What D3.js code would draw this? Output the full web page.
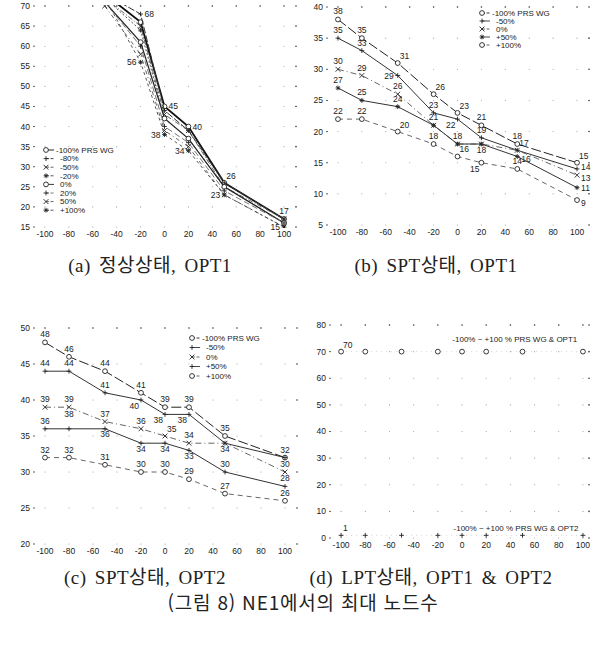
<!DOCTYPE html>
<html lang="ko">
<head>
<meta charset="utf-8">
<title>NE1에서의 최대 노드수</title>
<script src="https://cdn.jsdelivr.net/npm/d3@7"></script>
<style>
  body { margin: 0; background: #fff; }
  svg text { font-family: "Liberation Sans Narrow", "Liberation Sans", sans-serif; fill: #1a1a1a; }
  .tick { font-size: 8.5px; }
  .lbl { font-size: 8.5px; }
  .leg { font-size: 8px; }
  .cap { font-family: "Liberation Serif", "DejaVu Serif", "Noto Sans CJK KR", serif; font-size: 19px; letter-spacing: 0.5px; word-spacing: 3px; fill: #222; }
  .main { font-family: "Noto Sans CJK KR", sans-serif; font-size: 19px; letter-spacing: 0.8px; fill: #222; }
</style>
</head>
<body>
<svg id="fig" width="595" height="654"></svg>
<script>
// ---- data ----
var xTicks = [-100, -80, -60, -40, -20, 0, 20, 40, 60, 80, 100];

// (a) 정상상태, OPT1
var aX = [-50, -20, 0, 20, 50, 100];
var aNames = ["-100% PRS WG", "-80%", "-50%", "-20%", "0%", "20%", "50%", "+100%"];
var aVals = [
  [73, 66, 45, 40, 26, 17],
  [73, 68, 44, 39, 26, 17],
  [72, 65, 43, 39, 25, 17],
  [72, 64, 42, 37, 25, 16],
  [71, 61, 42, 37, 25, 16],
  [71, 60, 40, 36, 24, 16],
  [70, 58, 39, 35, 23, 15],
  [72, 56, 38, 34, 23, 15]
];
var aYTicks = [15, 20, 25, 30, 35, 40, 45, 50, 55, 60, 65, 70];
var aLabels = [[-20, 68, "r"], [-20, 56, "l"], [0, 45, "r"], [0, 38, "l"], [20, 40, "r"],
               [20, 34, "l"], [50, 26, "ar"], [50, 23, "l"], [100, 17, "a"], [100, 15, "l"]];

// (b) SPT상태, OPT1
var bX = [-100, -80, -50, -20, 0, 20, 50, 100];
var bNames = ["-100% PRS WG", "-50%", "0%", "+50%", "+100%"];
var bVals = [
  [38, 35, 31, 26, 23, 21, 18, 15],
  [35, 33, 29, 23, 22, 19, 17, 14],
  [30, 29, 26, 21, 18, 18, 17, 13],
  [27, 25, 24, 21, 18, 18, 16, 11],
  [22, 22, 20, 18, 16, 15, 14, 9]
];
var bYTicks = [5, 10, 15, 20, 25, 30, 35, 40];
var bLabels = [[-100, 38, "a"], [-100, 35, "a"], [-100, 30, "a"], [-100, 27, "a"], [-100, 22, "a"],
               [-80, 35, "a"], [-80, 33, "a"], [-80, 29, "a"], [-80, 25, "a"], [-80, 22, "a"],
               [-50, 31, "ar"], [-50, 29, "l"], [-50, 26, "a"], [-50, 24, "a"], [-50, 20, "ar"],
               [-20, 26, "ar"], [-20, 23, "a"], [-20, 21, "a"], [-20, 18, "a"],
               [0, 23, "ar"], [0, 22, "bl"], [0, 18, "a"], [0, 16, "ar"],
               [20, 21, "a"], [20, 19, "a"], [20, 18, "b"], [20, 15, "bl"],
               [50, 18, "a"], [50, 17, "ar"], [50, 16, "rb"], [50, 14, "a"],
               [100, 15, "ar"], [100, 14, "rm"], [100, 13, "rb"], [100, 11, "r"], [100, 9, "rb"]];

// (c) SPT상태, OPT2
var cX = [-100, -80, -50, -20, 0, 20, 50, 100];
var cNames = ["-100% PRS WG", "-50%", "0%", "+50%", "+100%"];
var cVals = [
  [48, 46, 44, 41, 39, 39, 35, 32],
  [44, 44, 41, 40, 38, 38, 34, 32],
  [39, 39, 37, 36, 35, 34, 34, 30],
  [36, 36, 36, 34, 34, 33, 30, 28],
  [32, 32, 31, 30, 30, 29, 27, 26]
];
var cYTicks = [20, 25, 30, 35, 40, 45, 50];
var cLabels = [[-100, 48, "a"], [-100, 44, "a"], [-100, 39, "a"], [-100, 36, "a"], [-100, 32, "a"],
               [-80, 46, "a"], [-80, 44, "a"], [-80, 39, "a"], [-80, 38, "c"], [-80, 32, "a"],
               [-50, 44, "a"], [-50, 41, "a"], [-50, 37, "a"], [-50, 36, "b"], [-50, 31, "a"],
               [-20, 41, "a"], [-20, 40, "bl"], [-20, 36, "a"], [-20, 34, "b"], [-20, 30, "a"],
               [0, 39, "a"], [0, 38, "bl"], [0, 35, "ar"], [0, 34, "b"], [0, 30, "a"],
               [20, 39, "a"], [20, 38, "bl"], [20, 34, "a"], [20, 33, "b"], [20, 29, "a"],
               [50, 35, "a"], [50, 34, "b"], [50, 30, "a"], [50, 27, "a"],
               [100, 32, "a"], [100, 30, "a"], [100, 28, "a"], [100, 26, "a"]];

// (d) LPT상태, OPT1 & OPT2
var dX = [-100, -80, -50, -20, 0, 20, 50, 100];
var dNames = ["-100% ~ +100 % PRS WG & OPT1", "-100% ~ +100 % PRS WG & OPT2"];
var dVals = [
  [70, 70, 70, 70, 70, 70, 70, 70],
  [1, 1, 1, 1, 1, 1, 1, 1]
];
var dYTicks = [0, 10, 20, 30, 40, 50, 60, 70, 80];
var dLabels = [[-100, 70, "ar"], [-100, 1, "ar"]];

var captions = ["(a) 정상상태, OPT1", "(b) SPT상태, OPT1", "(c) SPT상태, OPT2", "(d) LPT상태, OPT1 & OPT2"];
var figTitle = "(그림 8) NE1에서의 최대 노드수";

// ---- drawing ----
var svg = d3.select("#fig");

function markPath(type, s) {
  if (type == "+") return "M" + (-s) + ",0H" + s + "M0," + (-s) + "V" + s;
  if (type == "x") return "M" + (-s) + "," + (-s) + "L" + s + "," + s + "M" + (-s) + "," + s + "L" + s + "," + (-s);
  if (type == "*") { var k = s * 0.7;
    return "M" + (-s) + ",0H" + s + "M0," + (-s) + "V" + s +
      "M" + (-k) + "," + (-k) + "L" + k + "," + k + "M" + (-k) + "," + k + "L" + k + "," + (-k); }
  return d3.symbol(d3.symbolCircle, Math.PI * s * s)();
}

function addMark(g, type, px, py, col) {
  g.append("path")
    .attr("d", markPath(type, 2.4))
    .attr("transform", "translate(" + px + "," + py + ")")
    .attr("fill", type == "o" ? "#fff" : "none")
    .attr("stroke", col)
    .attr("stroke-width", 0.9);
}

function drawPanel(p) {
  var g = svg.append("g");
  var x = d3.scaleLinear().domain(p.xDom).range([p.left, p.right]);
  var y = d3.scaleLinear().domain(d3.extent(p.yTicks)).range([p.bottom, p.top]);

  g.append("clipPath").attr("id", "clip" + p.id).append("rect")
    .attr("x", p.left).attr("y", p.top - 1)
    .attr("width", p.right - p.left).attr("height", p.bottom - p.top + 2);

  // dotted grid: dots at tick crossings, darker along top and right edges
  var cols = xTicks.concat([p.xDom[1]]);
  p.yTicks.forEach(function (yt) {
    cols.forEach(function (xt) {
      var edge = yt == p.yTicks[p.yTicks.length - 1] || xt == p.xDom[1];
      g.append("circle")
        .attr("cx", x(xt)).attr("cy", y(yt))
        .attr("r", edge ? 0.8 : 0.55)
        .attr("fill", edge ? "#333" : "#999");
    });
  });

  // y axis ticks
  p.yTicks.forEach(function (yt) {
    g.append("line")
      .attr("x1", p.left).attr("x2", p.left + 2)
      .attr("y1", y(yt)).attr("y2", y(yt))
      .attr("stroke", "#333").attr("stroke-width", 0.8);
    g.append("text").attr("class", "tick")
      .attr("x", p.left - 3).attr("y", y(yt)).attr("dy", "0.35em")
      .attr("text-anchor", "end").text(yt);
  });
  // x axis labels
  xTicks.forEach(function (xt) {
    g.append("text").attr("class", "tick")
      .attr("x", x(xt)).attr("y", p.bottom + 10)
      .attr("text-anchor", "middle").text(xt);
  });

  var line = d3.line().x(function (d) { return x(d[0]); }).y(function (d) { return y(d[1]); });
  var plot = g.append("g").attr("clip-path", "url(#clip" + p.id + ")");

  p.vals.forEach(function (vals, i) {
    var pts = vals.map(function (v, j) { return [p.xs[j], v]; });
    plot.append("path")
      .attr("d", line(pts))
      .attr("fill", "none")
      .attr("stroke", p.colors[i])
      .attr("stroke-width", p.widths[i])
      .attr("stroke-dasharray", p.dashes[i]);
    pts.forEach(function (d) {
      if (d[1] <= y.domain()[1]) addMark(plot, p.marks[i], x(d[0]), y(d[1]), "#222");
    });
  });

  // value labels
  var offs = { a: [0, -5, "middle"], b: [0, 8.5, "middle"], l: [-4, 3, "end"], r: [4, 3, "start"],
               rm: [4, 1, "start"], rb: [4, 5.5, "start"],
               ar: [2, -4, "start"], bl: [-2, 9, "end"], c: [0, 3, "middle"] };
  p.labels.forEach(function (l) {
    var off = offs[l[2]];
    g.append("text").attr("class", "lbl")
      .attr("x", x(l[0]) + off[0]).attr("y", y(l[1]) + off[1])
      .attr("text-anchor", off[2]).text(l[1]);
  });

  // legend
  if (p.legend) {
    p.names.forEach(function (name, i) {
      var ly = p.legend.y + i * p.legend.step;
      g.append("line")
        .attr("x1", p.legend.x).attr("x2", p.legend.x + 8)
        .attr("y1", ly).attr("y2", ly)
        .attr("stroke", p.colors[i]).attr("stroke-width", 0.9)
        .attr("stroke-dasharray", p.dashes[i] ? "3,1.5" : null);
      addMark(g, p.marks[i], p.legend.x, ly, "#222");
      g.append("text").attr("class", "leg")
        .attr("x", p.legend.x + (i == 0 ? 10 : 14)).attr("y", ly).attr("dy", "0.35em")
        .text(name);
    });
  }

  // free notes (panel d)
  if (p.notes) {
    p.notes.forEach(function (n, i) {
      g.append("text").attr("class", "leg")
        .attr("x", x(n.x)).attr("y", y(n.y)).text(p.names[i]);
    });
  }
}

drawPanel({
  id: "a", xs: aX, vals: aVals, yTicks: aYTicks, names: aNames, labels: aLabels,
  xDom: [-110, 110], left: 33, right: 296, top: 6, bottom: 227,
  marks: ["o", "+", "x", "*", "o", "+", "x", "*"],
  colors: ["#111", "#333", "#555", "#444", "#222", "#666", "#555", "#444"],
  widths: [1.8, 1, 0.9, 0.9, 1.2, 0.9, 0.9, 0.9],
  dashes: [null, "7,2", "5,2,1,2", "2,2", null, "6,3", "4,3,1,3", "3,3"],
  legend: { x: 46, y: 150, step: 8.6 }
});

drawPanel({
  id: "b", xs: bX, vals: bVals, yTicks: bYTicks, names: bNames, labels: bLabels,
  xDom: [-110, 110], left: 326, right: 589, top: 7, bottom: 225,
  marks: ["o", "+", "x", "*", "o"],
  colors: ["#222", "#333", "#555", "#333", "#555"],
  widths: [1, 1, 0.9, 1, 0.9],
  dashes: ["10,3", null, "6,3,1,3", null, "5,4"],
  legend: { x: 482, y: 13, step: 8 }
});

drawPanel({
  id: "c", xs: cX, vals: cVals, yTicks: cYTicks, names: cNames, labels: cLabels,
  xDom: [-110, 110], left: 33, right: 297, top: 328, bottom: 544,
  marks: ["o", "+", "x", "+", "o"],
  colors: ["#222", "#333", "#555", "#333", "#555"],
  widths: [1, 1, 0.9, 1, 0.9],
  dashes: ["10,3", null, "6,3,1,3", null, "5,4"],
  legend: { x: 192, y: 338, step: 9.5 }
});

drawPanel({
  id: "d", xs: dX, vals: dVals, yTicks: dYTicks, names: dNames, labels: dLabels,
  xDom: [-110, 105], left: 329, right: 589, top: 325, bottom: 538,
  marks: ["o", "+"],
  colors: ["#bbb", "#bbb"],
  widths: [0.6, 0.6],
  dashes: ["1,4", "1,4"],
  notes: [{ x: -8, y: 73.5 }, { x: -7, y: 2.5 }]
});

// captions
var capPos = [[150, 272], [436, 272], [145, 584], [431, 584]];
captions.forEach(function (c, i) {
  svg.append("text").attr("class", "cap")
    .attr("x", capPos[i][0]).attr("y", capPos[i][1])
    .attr("text-anchor", "middle").text(c);
});
svg.append("text").attr("class", "main")
  .attr("x", 303).attr("y", 610)
  .attr("text-anchor", "middle").text(figTitle);
</script>
</body>
</html>
